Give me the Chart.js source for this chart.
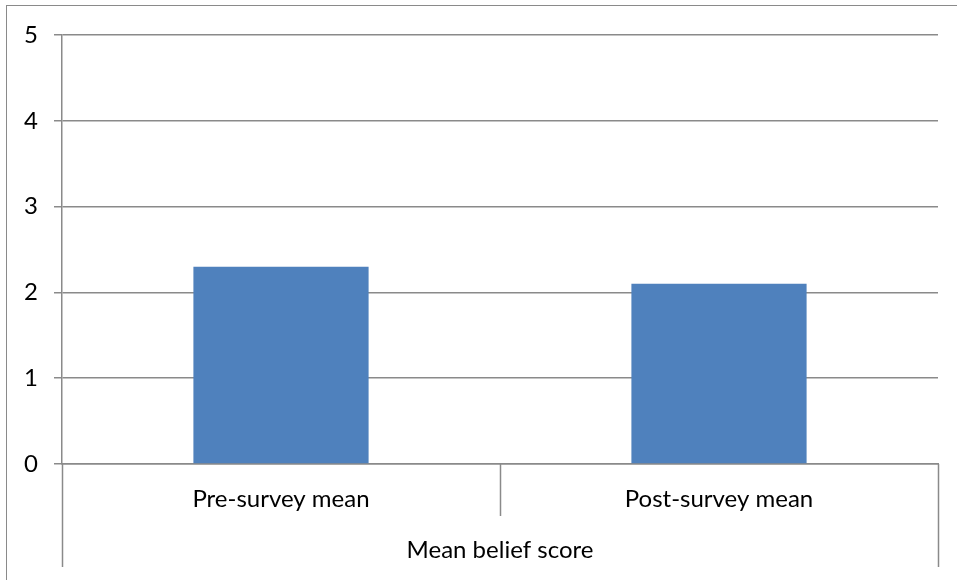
<!DOCTYPE html>
<html>
<head>
<meta charset="utf-8">
<script src="https://cdn.jsdelivr.net/npm/chart.js@4/dist/chart.umd.min.js"></script>
<style>
  html, body { margin: 0; padding: 0; background: #fff; }
  #frame { position: absolute; left: 6px; top: 5px; width: 951px; height: 575px;
           border-left: 1.5px solid #8a8a8a; border-top: 1.5px solid #8a8a8a; }
  #wrap { position: absolute; left: 0; top: 0; width: 957px; height: 580px; }
</style>
</head>
<body>
<div id="frame"></div>
<div id="wrap"><canvas id="c" width="957" height="580"></canvas></div>
<script>
const categories = ["Pre-survey mean", "Post-survey mean"];
const groupLabel = "Mean belief score";
const values = [2.3, 2.1];
const yTicks = [0, 1, 2, 3, 4, 5];

const FONT = "Lato, 'Open Sans', sans-serif";
const FONT_SIZE = 24;
const AXIS_LEFT = 62, AXIS_TOP = 35, AXIS_RIGHT = 938, AXIS_BOTTOM = 464;

const dividers = {
  id: 'dividers',
  afterDraw(chart) {
    const ctx = chart.ctx;
    const x = chart.scales.x;
    const n = categories.length;
    ctx.save();
    ctx.strokeStyle = '#8a8a8a';
    ctx.lineWidth = 1.5;
    for (let i = 0; i <= n; i++) {
      const px = Math.round(x.left + (x.right - x.left) * i / n) + 0.5;
      const outer = (i === 0 || i === n);
      ctx.beginPath();
      ctx.moveTo(px, x.top);
      ctx.lineTo(px, outer ? 567 : 516);
      ctx.stroke();
    }
    ctx.restore();
  }
};

new Chart(document.getElementById('c'), {
  type: 'bar',
  data: {
    labels: categories,
    datasets: [{
      data: values,
      backgroundColor: '#4F81BD',
      borderWidth: 0,
      barPercentage: 0.4,
      categoryPercentage: 1.0
    }]
  },
  options: {
    responsive: false,
    animation: false,
    devicePixelRatio: 1,
    layout: { padding: { left: 0, top: AXIS_TOP, right: 957 - AXIS_RIGHT, bottom: 0 } },
    plugins: { legend: { display: false }, tooltip: { enabled: false } },
    scales: {
      y: {
        min: 0, max: 5,
        afterFit(s) { s.width = AXIS_LEFT; },
        afterBuildTicks(s) { s.ticks = yTicks.map(v => ({ value: v })); },
        ticks: { color: '#000', font: { family: FONT, size: FONT_SIZE }, padding: 16 },
        grid: { color: '#8a8a8a', lineWidth: 1.5, tickLength: 8 },
        border: { display: true, color: '#8a8a8a', width: 1.5 }
      },
      x: {
        afterFit(s) { s.height = 580 - AXIS_BOTTOM; },
        ticks: { color: '#000', font: { family: FONT, size: FONT_SIZE }, padding: 21, maxRotation: 0 },
        grid: { display: false, drawTicks: false },
        border: { display: true, color: '#8a8a8a', width: 1.5 },
        title: { display: true, text: groupLabel, color: '#000', font: { family: FONT, size: FONT_SIZE }, padding: { top: 0, bottom: 15 } }
      }
    }
  },
  plugins: [dividers]
});
</script>
</body>
</html>
